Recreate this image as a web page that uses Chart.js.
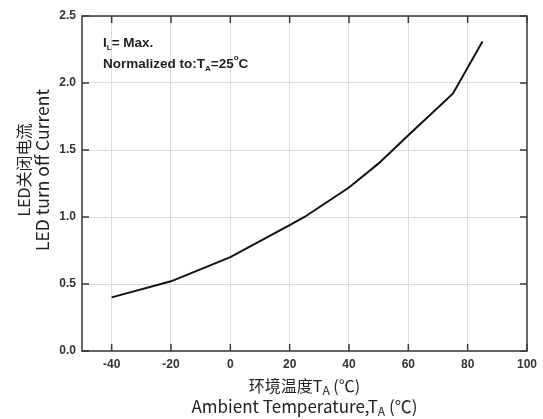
<!DOCTYPE html>
<html>
<head>
<meta charset="utf-8">
<script src="https://cdn.jsdelivr.net/npm/chart.js@4/dist/chart.umd.min.js"></script>
<style>
  html, body { margin: 0; padding: 0; background: #fff; }
  #wrap { width: 543px; height: 419px; }
</style>
</head>
<body>
<div id="wrap"><canvas id="chart"></canvas></div>
<script>
"use strict";

// data
var temps = [-40, -20, 0, 20, 25, 40, 50, 60, 75, 85];
var current = [0.40, 0.52, 0.70, 0.94, 1.00, 1.22, 1.40, 1.61, 1.92, 2.31];

var xTicks = [-40, -20, 0, 20, 40, 60, 80, 100];
var yTicks = [0.0, 0.5, 1.0, 1.5, 2.0, 2.5];

var xTitleCn = "环境温度T";
var xTitleEn = "Ambient Temperature,T";
var xTitleUnit = " (℃)";
var yTitleCn = "LED关闭电流";
var yTitleEn = "LED turn off Current";

var points = temps.map(function (t, i) { return { x: t, y: current[i] }; });

var tickFont = { family: "'Liberation Sans', Arial, sans-serif", size: 12, weight: "bold" };
var titleFamily = "'Noto Sans CJK SC', 'Noto Sans', sans-serif";

// draw text with a subscript piece, returns end x
function drawParts(ctx, parts, x, y) {
  parts.forEach(function (p) {
    ctx.font = p.font;
    ctx.fillText(p.text, x, y + (p.dy || 0));
    x += ctx.measureText(p.text).width;
  });
  return x;
}
function partsWidth(ctx, parts) {
  var w = 0;
  parts.forEach(function (p) { ctx.font = p.font; w += ctx.measureText(p.text).width; });
  return w;
}

var framePlugin = {
  id: "frame",
  afterDatasetsDraw: function (chart) {
    var ctx = chart.ctx;
    var a = chart.chartArea;
    var xs = chart.scales.x, ys = chart.scales.y;
    ctx.save();
    ctx.strokeStyle = "#3a3a3a";
    ctx.lineWidth = 1.5;
    ctx.strokeRect(a.left, a.top, a.right - a.left, a.bottom - a.top);
    // inward ticks
    ctx.beginPath();
    xTicks.forEach(function (v) {
      var px = xs.getPixelForValue(v);
      ctx.moveTo(px, a.bottom); ctx.lineTo(px, a.bottom - 7);
      ctx.moveTo(px, a.top); ctx.lineTo(px, a.top + 7);
    });
    yTicks.forEach(function (v) {
      var py = ys.getPixelForValue(v);
      ctx.moveTo(a.left, py); ctx.lineTo(a.left + 7, py);
      ctx.moveTo(a.right, py); ctx.lineTo(a.right - 7, py);
    });
    ctx.stroke();
    ctx.restore();
  },
  afterDraw: function (chart) {
    var ctx = chart.ctx;
    var a = chart.chartArea;
    ctx.save();
    ctx.fillStyle = "#222";
    ctx.textBaseline = "alphabetic";
    ctx.textAlign = "left";

    // annotation
    var b13 = "bold 13.5px 'Liberation Sans', Arial, sans-serif";
    var b8 = "bold 8px 'Liberation Sans', Arial, sans-serif";
    drawParts(ctx, [
      { text: "I", font: b13 },
      { text: "L", font: b8, dy: 3 },
      { text: "= Max.", font: b13 }
    ], a.left + 21, 47);
    drawParts(ctx, [
      { text: "Normalized to:T", font: b13 },
      { text: "A", font: b8, dy: 3 },
      { text: "=25", font: b13 },
      { text: "o", font: b8, dy: -8 },
      { text: "C", font: b13 }
    ], a.left + 21, 68);

    // x axis title
    var fCn = "16px " + titleFamily;
    var fEn = "17px " + titleFamily;
    var f12 = "12px " + titleFamily;
    var cx = (a.left + a.right) / 2;
    var l1 = [{ text: xTitleCn, font: fCn }, { text: "A", font: f12, dy: 3 }, { text: xTitleUnit, font: fCn }];
    var l2 = [{ text: xTitleEn, font: fEn }, { text: "A", font: f12, dy: 3 }, { text: xTitleUnit, font: fEn }];
    drawParts(ctx, l1, cx - partsWidth(ctx, l1) / 2, 392);
    drawParts(ctx, l2, cx - partsWidth(ctx, l2) / 2, 413);

    // y axis title
    ctx.translate(0, 170);
    ctx.rotate(-Math.PI / 2);
    ctx.textAlign = "center";
    ctx.font = fCn;
    ctx.fillText(yTitleCn, 0, 30);
    ctx.font = "17.5px " + titleFamily;
    ctx.fillText(yTitleEn, 0, 49);
    ctx.restore();
  }
};

new Chart(document.getElementById("chart"), {
  type: "line",
  data: {
    datasets: [{
      data: points,
      borderColor: "#111",
      borderWidth: 2,
      pointRadius: 0,
      tension: 0,
      fill: false
    }]
  },
  options: {
    responsive: true,
    maintainAspectRatio: false,
    animation: false,
    layout: { padding: { top: 16, right: 13, left: 0, bottom: 0 } },
    plugins: { legend: { display: false }, tooltip: { enabled: false } },
    scales: {
      x: {
        type: "linear",
        min: -50,
        max: 100,
        afterBuildTicks: function (s) { s.ticks = xTicks.map(function (v) { return { value: v }; }); },
        afterFit: function (s) { s.height = 68; },
        border: { display: false },
        grid: { color: "#dcdcdc", lineWidth: 1, drawTicks: false },
        ticks: { font: tickFont, color: "#333", padding: 6 }
      },
      y: {
        type: "linear",
        min: 0,
        max: 2.5,
        afterBuildTicks: function (s) { s.ticks = yTicks.map(function (v) { return { value: v }; }); },
        afterFit: function (s) { s.width = 82; },
        border: { display: false },
        grid: { color: "#dcdcdc", lineWidth: 1, drawTicks: false },
        ticks: {
          font: tickFont, color: "#333", padding: 6,
          callback: function (v) { return Number(v).toFixed(1); }
        }
      }
    }
  },
  plugins: [framePlugin]
});
</script>
</body>
</html>
